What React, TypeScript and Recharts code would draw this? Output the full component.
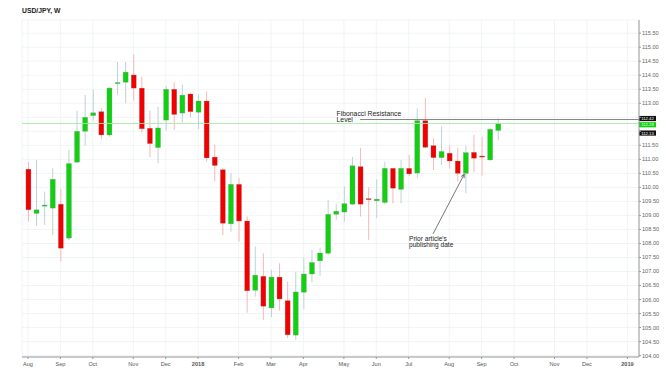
import React from 'react';
import {
  ComposedChart,
  Bar,
  XAxis,
  YAxis,
  CartesianGrid,
  ReferenceLine,
} from 'recharts';

// weekly candles, Aug 2017 - Sep 2018
const opens = [
  110.65, 109.07, 109.33, 109.26, 109.40, 108.19, 110.90, 112.00, 112.56, 112.70,
  111.87, 113.70, 113.75, 114.01, 113.54, 112.11, 111.42, 112.40, 113.50, 112.65,
  113.33, 112.68, 113.08, 111.08, 110.63, 108.70, 110.11, 108.80, 106.33, 106.83,
  105.70, 106.80, 105.96, 104.73, 106.26, 106.91, 107.38, 107.65, 109.04, 109.12,
  109.40, 110.74, 109.60, 109.52, 109.46, 110.68, 109.93, 110.68, 110.51, 112.38,
  111.49, 111.06, 111.22, 110.94, 110.50, 111.25, 111.12, 110.98, 112.03,
];
const highs = [
  110.92, 110.98, 109.85, 110.68, 109.95, 111.34, 112.74, 113.30, 113.48, 112.82,
  113.58, 114.47, 114.47, 114.75, 113.95, 112.74, 112.88, 113.62, 113.75, 113.66,
  113.38, 113.33, 113.42, 111.52, 110.70, 110.51, 110.33, 108.96, 107.89, 107.65,
  107.06, 107.29, 106.64, 106.99, 107.49, 107.77, 107.85, 109.55, 109.40, 110.03,
  111.08, 111.40, 110.01, 110.29, 110.92, 110.70, 110.98, 111.16, 112.82, 113.18,
  111.75, 112.17, 111.50, 111.40, 111.49, 111.87, 111.81, 112.10, 112.47,
];
const lows = [
  108.78, 108.63, 108.66, 108.30, 107.35, 108.12, 110.86, 111.48, 112.38, 111.72,
  111.80, 113.30, 113.00, 113.10, 111.95, 111.08, 110.86, 112.03, 112.05, 112.32,
  112.50, 112.08, 110.92, 110.21, 108.30, 108.42, 108.07, 105.53, 106.10, 105.27,
  105.37, 105.60, 104.62, 104.56, 105.65, 106.62, 106.85, 107.60, 108.85, 108.78,
  109.38, 108.96, 108.13, 108.90, 109.40, 109.43, 109.43, 110.40, 110.33, 111.40,
  110.62, 110.80, 110.68, 110.21, 109.79, 110.54, 110.42, 110.95, 111.69,
];
const closes = [
  109.20, 109.20, 109.37, 110.29, 107.83, 110.85, 112.00, 112.50, 112.66, 111.87,
  113.54, 113.74, 114.11, 113.54, 112.09, 111.56, 112.12, 113.50, 112.60, 113.29,
  112.70, 113.08, 111.05, 110.78, 108.72, 110.11, 108.80, 106.31, 106.87, 105.76,
  106.80, 106.02, 104.74, 106.27, 106.91, 107.32, 107.66, 109.04, 109.15, 109.42,
  110.77, 109.40, 109.56, 109.58, 110.68, 109.97, 110.68, 110.48, 112.38, 111.43,
  111.06, 111.28, 110.94, 110.50, 111.24, 111.04, 111.08, 112.07, 112.29,
];

const monthTicks = [1, 5, 9, 14, 18, 22, 27, 31, 35, 40, 44, 48, 53, 57, 61, 66, 70, 75];
const monthLabels = [
  'Aug', 'Sep', 'Oct', 'Nov', 'Dec', '2018', 'Feb', 'Mar', 'Apr',
  'May', 'Jun', 'Jul', 'Aug', 'Sep', 'Oct', 'Nov', 'Dec', '2019',
];

const priceTicks = [
  104, 104.5, 105, 105.5, 106, 106.5, 107, 107.5, 108, 108.5, 109, 109.5,
  110, 110.5, 111, 111.5, 112, 112.5, 113, 113.5, 114, 114.5, 115, 115.5,
];
// tick labels covered by the price tags
const hiddenTicks = [112, 112.5];

const lastPrice = 112.28;
const fibLevel = 112.42;
const weekLow = 112.13;

const data = opens.map((o, k) => ({
  i: k + 1,
  open: o,
  high: highs[k],
  low: lows[k],
  close: closes[k],
  range: [lows[k], highs[k]],
}));

const FONT = '"Liberation Sans", Arial, sans-serif';
const UP = '#10d010';
const DOWN = '#f20000';

const Candle = (props: any) => {
  const { x, y, width, height, payload } = props;
  const top = Math.min(y, y + height);
  const h = Math.abs(height);
  const { open, high, low, close } = payload;
  const k = high - low > 0 ? h / (high - low) : 0;
  const py = (p: number) => top + (high - p) * k;
  const cx = x + width / 2;
  const up = close >= open;
  const bTop = py(Math.max(open, close));
  const bH = Math.max(1, py(Math.min(open, close)) - bTop);
  return (
    <g>
      <line x1={cx} x2={cx} y1={top} y2={top + h} stroke={up ? '#bcd3d8' : '#f6b8b8'} strokeWidth={1} />
      <rect
        x={x}
        y={bTop}
        width={width}
        height={bH}
        fill={up ? UP : DOWN}
        stroke="#7f8c8c"
        strokeOpacity={0.5}
        strokeWidth={0.5}
      />
    </g>
  );
};

const priceTag = (value: number, bg: string, shift: number) => (props: any) => {
  const vb = props.viewBox || {};
  const x = (vb.x || 0) + (vb.width || 0);
  const cy = (vb.y || 0) + shift;
  return (
    <g>
      <rect x={x} y={cy - 2.6} width={17} height={5.2} fill={bg} />
      <text x={x + 8.5} y={cy + 1.5} textAnchor="middle" fontSize={4.2} fill="#fff" fontFamily={FONT}>
        {value.toFixed(2)}
      </text>
    </g>
  );
};

const FibShape = (props: any) => {
  const { x1, y1, x2, y2 } = props;
  return (
    <g>
      <line x1={x1} y1={y1} x2={x2} y2={y2} stroke="#777" strokeWidth={0.9} />
      <text x={x1 - 23.5} y={y1 - 3.2} fontSize={6.8} fill="#222" fontFamily={FONT}>
        Fibonacci Resistance
      </text>
      <text x={x1 - 23.5} y={y1 + 2.8} fontSize={6.8} fill="#222" fontFamily={FONT}>
        Level
      </text>
    </g>
  );
};

const ArrowShape = (props: any) => {
  const { x1, y1, x2, y2 } = props;
  const a = Math.atan2(y2 - y1, x2 - x1);
  const L = 4;
  const w = 0.45;
  const hx1 = x2 - L * Math.cos(a - w);
  const hy1 = y2 - L * Math.sin(a - w);
  const hx2 = x2 - L * Math.cos(a + w);
  const hy2 = y2 - L * Math.sin(a + w);
  return (
    <g>
      <line x1={x1} y1={y1} x2={x2} y2={y2} stroke="#555" strokeWidth={0.8} />
      <polyline points={`${hx1},${hy1} ${x2},${y2} ${hx2},${hy2}`} fill="none" stroke="#555" strokeWidth={0.8} />
      <text x={x1 - 24} y={y1 + 7.5} fontSize={6.6} fill="#222" fontFamily={FONT}>
        Prior article's
      </text>
      <text x={x1 - 24} y={y1 + 13.5} fontSize={6.6} fill="#222" fontFamily={FONT}>
        publishing date
      </text>
    </g>
  );
};

const XTick = (props: any) => {
  const { x, y, payload } = props;
  const idx = monthTicks.indexOf(payload.value);
  const label = idx >= 0 ? monthLabels[idx] : '';
  const bold = label === '2018' || label === '2019';
  return (
    <text x={x} y={y + 5} textAnchor="middle" fontSize={5.6} fill="#555" fontFamily={FONT} fontWeight={bold ? 700 : 400}>
      {label}
    </text>
  );
};

export default function App() {
  return (
    <div style={{ position: 'absolute', left: 0, top: 0, width: 669, height: 374, background: '#fff' }}>
      <div
        style={{
          position: 'absolute',
          left: 22,
          top: 7,
          fontFamily: FONT,
          fontSize: 6.8,
          fontWeight: 700,
          color: '#222',
        }}
      >
        USD/JPY, W
      </div>
      <ComposedChart
        width={669}
        height={374}
        data={data}
        margin={{ top: 20, right: 0, bottom: 0, left: 22 }}
      >
        <CartesianGrid stroke="#eef1f2" strokeWidth={0.8} />
        <XAxis
          dataKey="i"
          type="number"
          domain={[0.26, 76.43]}
          allowDataOverflow
          ticks={monthTicks}
          tick={<XTick />}
          tickSize={2}
          height={17}
          axisLine={{ stroke: '#999' }}
          tickLine={{ stroke: '#999' }}
          interval={0}
        />
        <YAxis
          orientation="right"
          type="number"
          domain={[103.95, 115.97]}
          allowDataOverflow
          ticks={priceTicks}
          tickFormatter={(v: number) => (hiddenTicks.includes(v) ? '' : v.toFixed(2))}
          tick={{ fontSize: 5.6, fill: '#666', fontFamily: FONT }}
          tickSize={2}
          tickMargin={1}
          width={30}
          axisLine={{ stroke: '#999' }}
          tickLine={{ stroke: '#999' }}
          interval={0}
        />
        <ReferenceLine y={lastPrice} stroke="#a6eaa6" strokeWidth={0.9} label={priceTag(lastPrice, '#10d010', 1.3)} />
        <ReferenceLine
          segment={[{ x: 42, y: fibLevel }, { x: 76.43, y: fibLevel }]}
          shape={FibShape}
          label={priceTag(fibLevel, '#111', -1.0)}
        />
        <ReferenceLine y={weekLow} stroke="none" label={priceTag(weekLow, '#111', 5.4)} />
        <ReferenceLine
          segment={[{ x: 51.0, y: 108.34 }, { x: 54.86, y: 110.47 }]}
          shape={ArrowShape}
        />
        <Bar dataKey="range" shape={Candle} barSize={5} isAnimationActive={false} />
      </ComposedChart>
    </div>
  );
}
